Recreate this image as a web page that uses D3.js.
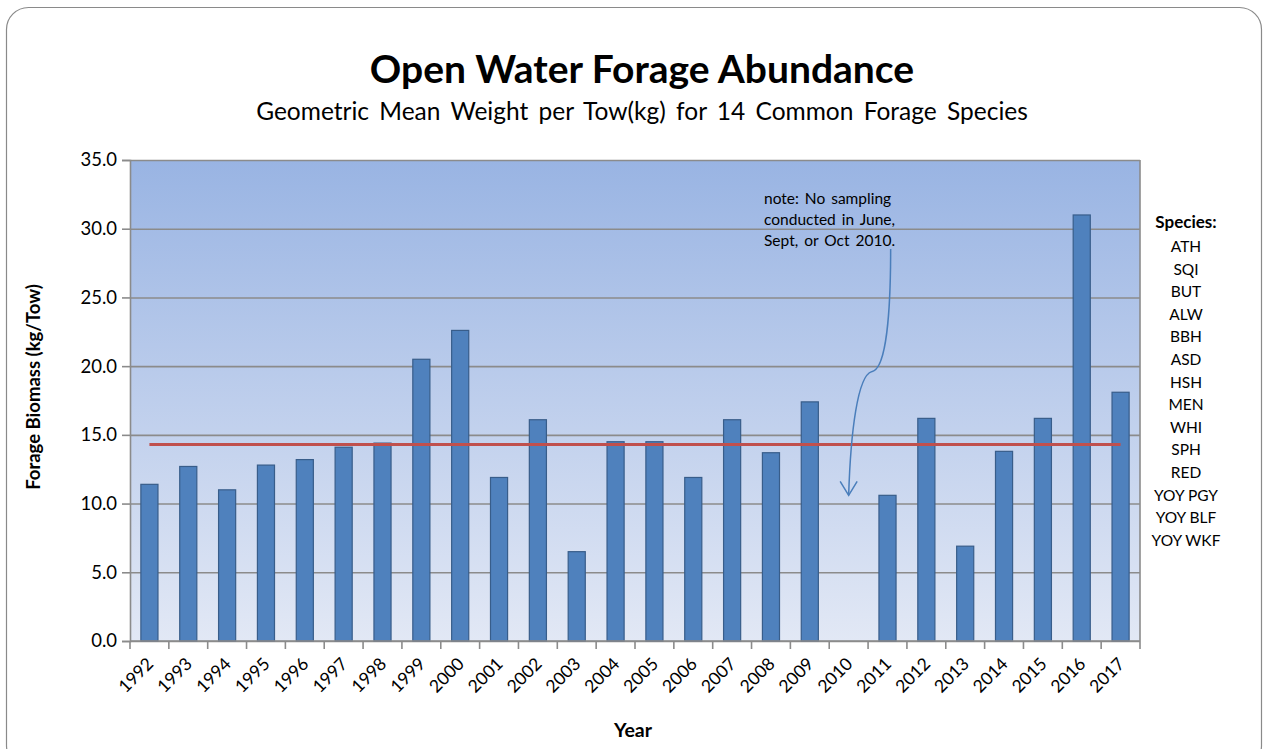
<!DOCTYPE html>
<html>
<head>
<meta charset="utf-8">
<script src="https://cdn.jsdelivr.net/npm/d3@7"></script>
<style>
  html, body { margin: 0; padding: 0; background: #fff; }
  svg { display: block; font-family: Lato, "Open Sans", sans-serif; }
</style>
</head>
<body>
<div id="chart"></div>
<script>
// Data
const years = ["1992", "1993", "1994", "1995", "1996", "1997", "1998", "1999", "2000",
  "2001", "2002", "2003", "2004", "2005", "2006", "2007", "2008", "2009", "2010",
  "2011", "2012", "2013", "2014", "2015", "2016", "2017"];
const biomass = [11.4, 12.7, 11.0, 12.8, 13.2, 14.1, 14.4, 20.5, 22.6,
  11.9, 16.1, 6.5, 14.5, 14.5, 11.9, 16.1, 13.7, 17.4, null,
  10.6, 16.2, 6.9, 13.8, 16.2, 31.0, 18.1];
const longTermMean = 14.3;
const yTicks = [0, 5, 10, 15, 20, 25, 30, 35];
const species = ["ATH", "SQI", "BUT", "ALW", "BBH", "ASD", "HSH", "MEN", "WHI",
  "SPH", "RED", "YOY PGY", "YOY BLF", "YOY WKF"];
const noteLines = ["note: No sampling", "conducted in June,", "Sept, or Oct 2010."];

function renderChart() {
  const width = 1267, height = 749;
  const plot = { left: 130, right: 1140, top: 160, bottom: 641 };

  const svg = d3.select('#chart').append('svg')
    .attr('width', width)
    .attr('height', height);

  // outer chart frame
  svg.append('rect')
    .attr('x', 6.5).attr('y', 7.5)
    .attr('width', 1255).attr('height', 760)
    .attr('rx', 22).attr('ry', 22)
    .attr('fill', '#fff')
    .attr('stroke', '#8a8a8a')
    .attr('stroke-width', 1.2);

  const x = d3.scaleBand()
    .domain(years)
    .range([plot.left, plot.right])
    .paddingInner(0.56)
    .paddingOuter(0.28);

  const y = d3.scaleLinear()
    .domain([0, 35])
    .range([plot.bottom, plot.top]);

  // plot area gradient
  const defs = svg.append('defs');
  const grad = defs.append('linearGradient')
    .attr('id', 'plotBg')
    .attr('x1', 0).attr('y1', 0).attr('x2', 0).attr('y2', 1);
  grad.append('stop').attr('offset', '0%').attr('stop-color', '#99b4e3');
  grad.append('stop').attr('offset', '100%').attr('stop-color', '#e2e8f5');

  svg.append('rect')
    .attr('x', plot.left).attr('y', plot.top)
    .attr('width', plot.right - plot.left)
    .attr('height', plot.bottom - plot.top)
    .attr('fill', 'url(#plotBg)');

  // Gridlines
  svg.append('g')
    .attr('class', 'grid')
    .attr('transform', `translate(${plot.left},0)`)
    .call(d3.axisLeft(y).tickValues(yTicks).tickSize(-(plot.right - plot.left)).tickFormat(''))
    .call(g => g.select('.domain').remove())
    .call(g => g.selectAll('line').attr('stroke', '#8b8b8b').attr('stroke-width', 1.6));

  // right border of plot
  svg.append('line')
    .attr('x1', plot.right).attr('x2', plot.right)
    .attr('y1', plot.top).attr('y2', plot.bottom)
    .attr('stroke', '#8b8b8b').attr('stroke-width', 1.6);

  // Y axis
  const yAxis = svg.append('g')
    .attr('transform', `translate(${plot.left},0)`)
    .call(d3.axisLeft(y).tickValues(yTicks).tickSize(8).tickPadding(5).tickFormat(d3.format('.1f')));
  yAxis.select('.domain').attr('stroke', '#8b8b8b').attr('stroke-width', 1.6);
  yAxis.selectAll('line').attr('stroke', '#8b8b8b').attr('stroke-width', 1.6);
  yAxis.selectAll('text')
    .attr('font-family', 'Lato, "Open Sans", sans-serif')
    .attr('font-size', 18.5)
    .attr('fill', '#000');

  // Bars
  const barData = years.map((yr, i) => ({ year: yr, value: biomass[i] }))
    .filter(d => d.value !== null);

  svg.selectAll('.bar')
    .data(barData)
    .join('rect')
    .attr('class', 'bar')
    .attr('x', d => x(d.year))
    .attr('y', d => y(d.value))
    .attr('width', x.bandwidth())
    .attr('height', d => y(0) - y(d.value))
    .attr('fill', '#4f81bd')
    .attr('stroke', '#385d8a')
    .attr('stroke-width', 1.2);

  // Long-term mean line
  const line = d3.line()
    .x(d => x(d) + x.bandwidth() / 2)
    .y(() => y(longTermMean));
  svg.append('path')
    .datum([years[0], years[years.length - 1]])
    .attr('d', line)
    .attr('fill', 'none')
    .attr('stroke', '#c0504d')
    .attr('stroke-width', 3);

  // X axis: baseline + ticks at category boundaries
  svg.append('line')
    .attr('x1', plot.left).attr('x2', plot.right)
    .attr('y1', plot.bottom).attr('y2', plot.bottom)
    .attr('stroke', '#8b8b8b').attr('stroke-width', 1.6);

  const step = x.step();
  const boundaries = years.map(yr => x(yr) + x.bandwidth() / 2 - step / 2).concat([plot.right]);
  svg.selectAll('.xtick')
    .data(boundaries)
    .join('line')
    .attr('class', 'xtick')
    .attr('x1', d => d).attr('x2', d => d)
    .attr('y1', plot.bottom).attr('y2', plot.bottom + 8)
    .attr('stroke', '#8b8b8b').attr('stroke-width', 1.6);

  svg.selectAll('.xlabel')
    .data(years)
    .join('text')
    .attr('class', 'xlabel')
    .attr('transform', d => `translate(${x(d) + x.bandwidth() / 2 + 5},${plot.bottom + 24}) rotate(-45)`)
    .attr('text-anchor', 'end')
    .attr('font-size', 17.5)
    .attr('fill', '#000')
    .text(d => d);

  // Axis titles
  svg.append('text')
    .attr('transform', `translate(40,387) rotate(-90)`)
    .attr('text-anchor', 'middle')
    .attr('font-size', 18.5)
    .attr('font-weight', 'bold')
    .text('Forage Biomass (kg/Tow)');

  svg.append('text')
    .attr('x', 633).attr('y', 737)
    .attr('text-anchor', 'middle')
    .attr('font-size', 19.5)
    .attr('font-weight', 'bold')
    .text('Year');

  // Titles
  svg.append('text')
    .attr('x', 642).attr('y', 83)
    .attr('text-anchor', 'middle')
    .attr('font-size', 39)
    .attr('font-weight', 'bold')
    .text('Open Water Forage Abundance');

  svg.append('text')
    .attr('x', 642).attr('y', 120)
    .attr('text-anchor', 'middle')
    .attr('font-size', 24.5)
    .attr('word-spacing', 4)
    .text('Geometric Mean Weight per Tow(kg) for 14 Common Forage Species');

  // Note + arrow pointing at 2010
  const noteX = 764;
  svg.selectAll('.note')
    .data(noteLines)
    .join('text')
    .attr('class', 'note')
    .attr('x', noteX)
    .attr('y', (d, i) => 204 + i * 21)
    .attr('font-size', 15.5)
    .attr('word-spacing', 2)
    .text(d => d);

  const tipX = x('2010') + x.bandwidth() / 2;
  const tipY = y(10.6);
  const startX = tipX + 42, startY = 249;
  const kinkX = tipX + 23, kinkY = y(19.6);
  svg.append('path')
    .attr('d', `M${startX},${startY} C${startX},${startY + 60} ${startX - 4},${kinkY - 2} ${kinkX},${kinkY}` +
      ` C${kinkX - 14},${kinkY + 4} ${tipX + 2},${kinkY + 60} ${tipX},${tipY}`)
    .attr('fill', 'none')
    .attr('stroke', '#4a7ebb')
    .attr('stroke-width', 1.5);
  svg.append('path')
    .attr('d', `M${tipX - 8.5},${tipY - 14} L${tipX},${tipY} L${tipX + 8.5},${tipY - 14}`)
    .attr('fill', 'none')
    .attr('stroke', '#4a7ebb')
    .attr('stroke-width', 1.5);

  // Species list
  const legendX = 1186;
  svg.append('text')
    .attr('x', legendX).attr('y', 228)
    .attr('text-anchor', 'middle')
    .attr('font-size', 17)
    .attr('font-weight', 'bold')
    .text('Species:');
  svg.selectAll('.species')
    .data(species)
    .join('text')
    .attr('class', 'species')
    .attr('x', legendX)
    .attr('y', (d, i) => 252 + i * 22.6)
    .attr('text-anchor', 'middle')
    .attr('font-size', 15.5)
    .text(d => d);
}

renderChart();
</script>
</body>
</html>
